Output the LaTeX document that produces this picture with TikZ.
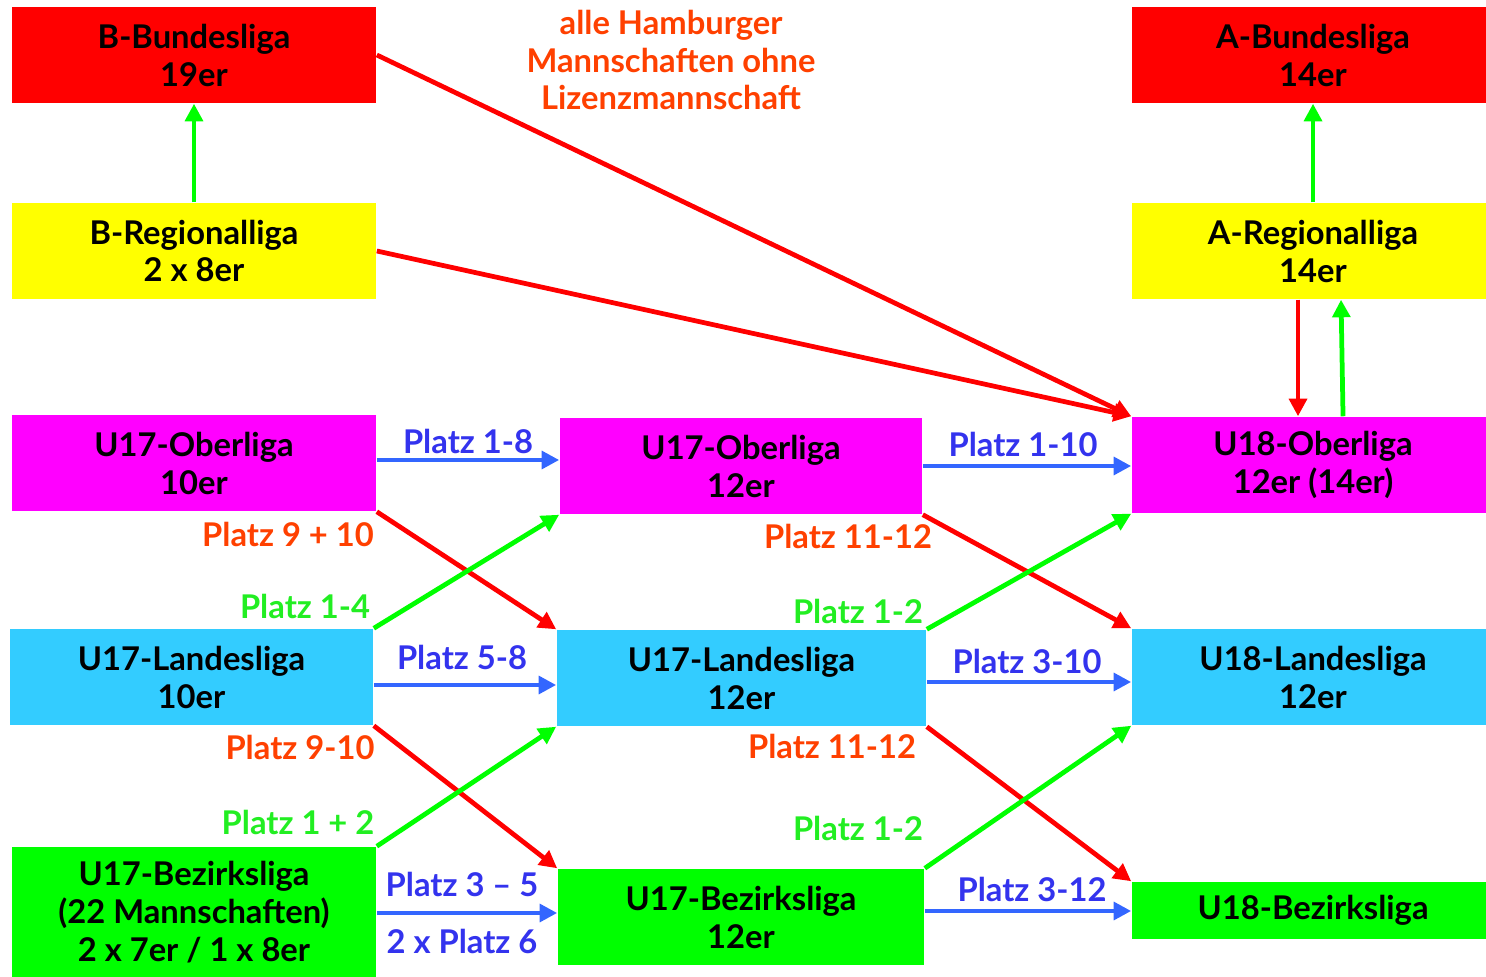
\documentclass[tikz,border=0pt]{standalone}
\usepackage{fontspec}
\setmainfont{Lato}
\usetikzlibrary{arrows.meta}
\definecolor{bundrot}{HTML}{FF0000}
\definecolor{reggelb}{HTML}{FFFF00}
\definecolor{obmag}{HTML}{FF00FF}
\definecolor{landcyan}{HTML}{33CCFF}
\definecolor{bezgruen}{HTML}{00FF00}
\definecolor{txtorange}{HTML}{FF4000}
\definecolor{txtgruen}{HTML}{22EE22}
\definecolor{txtblau}{HTML}{3333EE}
\definecolor{pfblau}{HTML}{3366FF}

\begin{document}
\begin{tikzpicture}[x=0.01cm,y=-0.01cm,
	liga/.style={minimum height=0.96cm, inner sep=0, align=center, font=\bfseries\fontsize{9.3}{10.8}\selectfont},
	lbl/.style={inner sep=0, align=center, font=\bfseries\fontsize{9.3}{10.8}\selectfont},
	pfeil/.style={line width=1.35pt, -{Triangle[length=5pt,width=5pt]}}]
	\useasboundingbox (0,0) rectangle (1486,977);
	% linke Spalte
	\node[liga, fill=bundrot, minimum width=3.64cm] (bbund) at (194,55) {B-Bundesliga\\19er};
	\node[liga, fill=reggelb, minimum width=3.64cm] (breg) at (194,251) {B-Regionalliga\\2 x 8er};
	\node[liga, fill=obmag, minimum width=3.64cm] (ob1) at (194,463) {U17-Oberliga\\10er};
	\node[liga, fill=landcyan, minimum width=3.63cm] (la1) at (191.5,677) {U17-Landesliga\\10er};
	\node[liga, fill=bezgruen, minimum width=3.64cm, minimum height=1.3cm] (bz1) at (194,912) {U17-Bezirksliga\\(22 Mannschaften)\\2 x 7er / 1 x 8er};
	% mittlere Spalte
	\node[liga, fill=obmag, minimum width=3.62cm] (ob2) at (741,466) {U17-Oberliga\\12er};
	\node[liga, fill=landcyan, minimum width=3.69cm] (la2) at (741.5,678) {U17-Landesliga\\12er};
	\node[liga, fill=bezgruen, minimum width=3.66cm] (bz2) at (741,917) {U17-Bezirksliga\\12er};
	% rechte Spalte (rechter Rand abgeschnitten)
	\node[liga, fill=bundrot, minimum width=3.62cm] (abund) at (1313,55) {A-Bundesliga\\14er};
	\node[liga, fill=reggelb, minimum width=3.62cm] (areg) at (1313,251) {A-Regionalliga\\14er};
	\node[liga, fill=obmag, minimum width=3.62cm] (ob3) at (1313,465) {U18-Oberliga\\12er (14er)};
	\node[liga, fill=landcyan, minimum width=3.62cm] (la3) at (1313,677) {U18-Landesliga\\12er};
	\node[liga, fill=bezgruen, minimum width=3.62cm, minimum height=0.57cm] (bz3) at (1313,910.5) {U18-Bezirksliga};

	\node[lbl, text=txtorange] (hh) at (671,60) {alle Hamburger\\Mannschaften ohne\\Lizenzmannschaft};

	% Pfeile oben
	\draw[pfeil, bezgruen] (breg) -- (bbund);
	\draw[pfeil, bezgruen] (areg) -- (abund);
	\draw[pfeil, bundrot] ([xshift=-1.5mm]areg.south) -- ([xshift=-1.5mm]ob3.north);
	\draw[pfeil, bezgruen] ([xshift=3.0mm]ob3.north) -- ([xshift=2.8mm]areg.south);
	\draw[pfeil, bundrot] (bbund.east) -- (ob3.north west);
	\draw[pfeil, bundrot] (breg.east) -- (ob3.north west);

	% Pfeile links -> mitte
	\draw[pfeil, pfblau] ([yshift=0.03cm]ob1.east) -- ([yshift=0.03cm]ob1.east -| ob2.west);
	\draw[pfeil, bundrot] (ob1.south east) -- (la2.north west);
	\draw[pfeil, bezgruen] (la1.north east) -- (ob2.south west);
	\draw[pfeil, pfblau] ([yshift=-0.08cm]la1.east) -- ([yshift=-0.08cm]la1.east -| la2.west);
	\draw[pfeil, bundrot] (la1.south east) -- (bz2.north west);
	\draw[pfeil, bezgruen] (bz1.north east) -- (la2.south west);
	\draw[pfeil, pfblau] ([yshift=-0.01cm]bz1.east) -- ([yshift=-0.01cm]bz1.east -| bz2.west);

	% Pfeile mitte -> rechts
	\draw[pfeil, pfblau] (ob2.east) -- (ob2.east -| ob3.west);
	\draw[pfeil, bundrot] (ob2.south east) -- (la3.north west);
	\draw[pfeil, bezgruen] (la2.north east) -- (ob3.south west);
	\draw[pfeil, pfblau] ([yshift=-0.04cm]la2.east) -- ([yshift=-0.04cm]la2.east -| la3.west);
	\draw[pfeil, bundrot] (la2.south east) -- (bz3.north west);
	\draw[pfeil, bezgruen] (bz2.north east) -- (la3.south west);
	\draw[pfeil, pfblau] ([yshift=0.06cm]bz2.east) -- ([yshift=0.06cm]bz2.east -| bz3.west);

	% Beschriftungen
	\node[lbl, text=txtblau] (l18) at (468,441) {Platz 1-8};
	\node[lbl, text=txtblau] (l110) at (1023,444) {Platz 1-10};
	\node[lbl, text=txtorange] (l910a) at (288,534) {Platz 9 + 10};
	\node[lbl, text=txtorange] (l1112a) at (848,536) {Platz 11-12};
	\node[lbl, text=txtgruen] (l14) at (305,606) {Platz 1-4};
	\node[lbl, text=txtgruen] (l12a) at (858,611) {Platz 1-2};
	\node[lbl, text=txtblau] (l58) at (462,657) {Platz 5-8};
	\node[lbl, text=txtblau] (l310) at (1027,661) {Platz 3-10};
	\node[lbl, text=txtorange] (l910b) at (300,747) {Platz 9-10};
	\node[lbl, text=txtorange] (l1112b) at (832,746) {Platz 11-12};
	\node[lbl, text=txtgruen] (l1p2) at (298,822) {Platz 1 + 2};
	\node[lbl, text=txtgruen] (l12b) at (858,828) {Platz 1-2};
	\node[lbl, text=txtblau] (l35) at (462,884) {Platz 3 – 5};
	\node[lbl, text=txtblau] (l6) at (462,941) {2 x Platz 6};
	\node[lbl, text=txtblau] (l312) at (1032,889) {Platz 3-12};
\end{tikzpicture}
\end{document}
